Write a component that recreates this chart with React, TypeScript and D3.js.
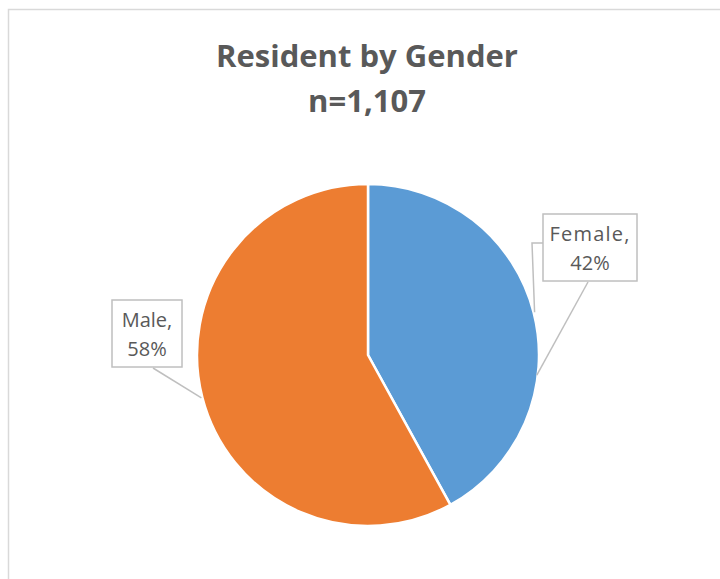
import * as d3 from "d3";

const WIDTH = 720;
const HEIGHT = 579;

const categories = ["Female", "Male"];
const values = [42, 58];
const colors = ["#5b9bd5", "#ed7d31"];
const titleLines = ["Resident by Gender", "n=1,107"];

const CX = 368;
const CY = 355;
const RADIUS = 171;
const TEXT = "#595959";
const FONT = "'Open Sans', 'Liberation Sans', sans-serif";

// label boxes (layout only)
const boxes = [
  { x: 543, y: 214, w: 94, h: 67 },
  { x: 112, y: 300, w: 70, h: 67 },
];

export default function App() {
  const data = categories.map((c, i) => ({ name: c, value: values[i] }));
  const pie = d3.pie<{ name: string; value: number }>().value((d) => d.value).sort(null);
  const arcs = pie(data);
  const arcGen = d3.arc<d3.PieArcDatum<{ name: string; value: number }>>()
    .innerRadius(0)
    .outerRadius(RADIUS);

  const edge = (a: number, r = RADIUS) => [CX + r * Math.sin(a), CY - r * Math.cos(a)];

  return (
    <>
      <style>{"body{margin:0;overflow:hidden}"}</style>
      <svg width={WIDTH} height={HEIGHT} style={{ display: "block", fontFamily: FONT }}>
        <rect x={8.5} y={9.5} width={760} height={620} fill="white" stroke="#d9d9d9" strokeWidth={1.5} />
        {titleLines.map((t, i) => (
          <text
            key={t}
            x={367}
            y={67 + i * 45}
            textAnchor="middle"
            fontSize={31}
            fontWeight="bold"
            fill={TEXT}
          >
            {t}
          </text>
        ))}
        <g transform={`translate(${CX},${CY})`}>
          {arcs.map((a, i) => (
            <path key={a.data.name} d={arcGen(a) || ""} fill={colors[i]} stroke="white" strokeWidth={2.5} />
          ))}
        </g>
        {arcs.map((a, i) => {
          const mid = (a.startAngle + a.endAngle) / 2;
          const b = boxes[i];
          const p = edge(mid, RADIUS + 1);
          let leaders;
          if (i === 0) {
            const q = edge(a.startAngle + (a.endAngle - a.startAngle) * 0.64, RADIUS - 1);
            leaders = (
              <>
                <polyline
                  points={`${b.x},${b.y + 29} ${b.x - 11},${b.y + 29} ${p[0]},${p[1]}`}
                  fill="none"
                  stroke="#bfbfbf"
                  strokeWidth={1.5}
                />
                <line x1={b.x + 45} y1={b.y + b.h + 1} x2={q[0]} y2={q[1]} stroke="#bfbfbf" strokeWidth={1.5} />
              </>
            );
          } else {
            leaders = (
              <line x1={b.x + 41} y1={b.y + b.h + 1} x2={p[0]} y2={p[1]} stroke="#bfbfbf" strokeWidth={1.5} />
            );
          }
          return (
            <g key={a.data.name}>
              {leaders}
              <rect x={b.x} y={b.y} width={b.w} height={b.h} fill="white" stroke="#bfbfbf" strokeWidth={1.5} />
              <text
                x={b.x + b.w / 2}
                y={b.y + 27}
                textAnchor="middle"
                fontSize={20}
                fill={TEXT}
                letterSpacing={i === 0 ? 1.2 : 0}
              >
                {a.data.name},
              </text>
              <text x={b.x + b.w / 2} y={b.y + 56} textAnchor="middle" fontSize={20} fill={TEXT}>
                {`${a.data.value}%`}
              </text>
            </g>
          );
        })}
      </svg>
    </>
  );
}
